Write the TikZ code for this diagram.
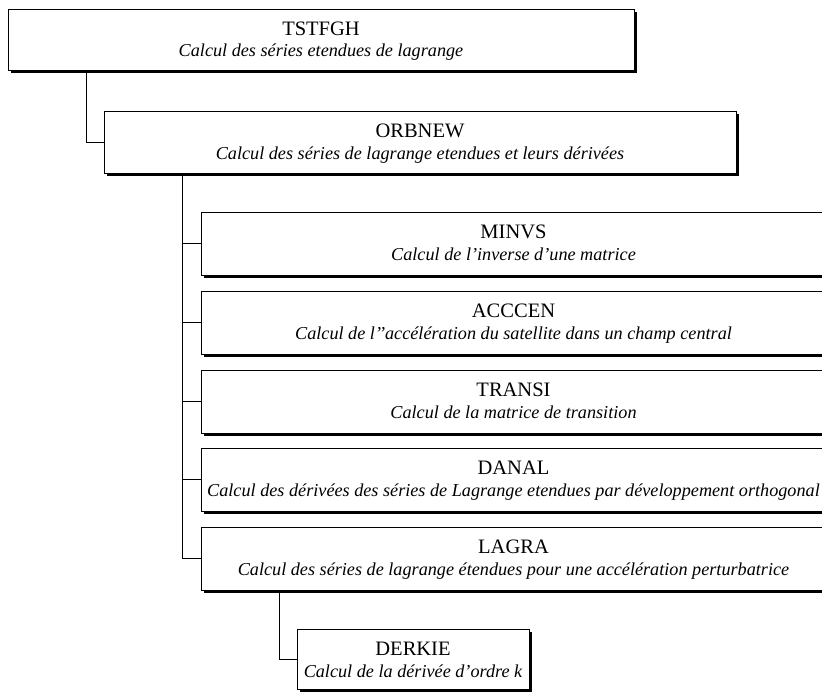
\documentclass[tikz,border=0pt]{standalone}
\usepackage{fontspec}
\setmainfont{Liberation Serif}
\usetikzlibrary{shadows}
\begin{document}
\begin{tikzpicture}[x=1pt,y=-1pt,
  bx/.style={draw=black, line width=0.9pt, fill=white, inner sep=0pt, outer sep=0pt,
    anchor=north west, drop shadow={shadow xshift=3pt, shadow yshift=-3pt, fill=black, opacity=1}},
  ttl/.style={anchor=base, inner sep=0pt, font=\fontsize{20.5}{24}\selectfont},
  sub/.style={anchor=base, inner sep=0pt, font=\fontsize{18.2}{22}\selectfont\itshape},
  wire/.style={draw=black, line width=0.9pt}]
\useasboundingbox (0,0) rectangle (822,693);
\clip (0,0) rectangle (822,693);
% boxes
\node[bx, minimum width=626pt, minimum height=61pt] (tst) at (8,9) {};
\node[bx, minimum width=632pt, minimum height=62pt] (orb) at (104,111) {};
\node[bx, minimum width=629pt, minimum height=63pt] (minvs) at (201,212) {};
\node[bx, minimum width=629pt, minimum height=63pt] (acc) at (201,291) {};
\node[bx, minimum width=629pt, minimum height=63pt] (trans) at (201,370) {};
\node[bx, minimum width=629pt, minimum height=63pt] (danal) at (201,448) {};
\node[bx, minimum width=629pt, minimum height=63pt] (lagra) at (201,527) {};
\node[bx, minimum width=232pt, minimum height=60pt] (derk) at (297,629) {};
% texts
\node[ttl] (tstT) at (321,35.5) {TSTFGH};
\node[sub] (tstS) at (321,57) {Calcul des séries etendues de lagrange};
\node[ttl] (orbT) at (420,137.5) {ORBNEW};
\node[sub] (orbS) at (420,159) {Calcul des séries de lagrange etendues et leurs dérivées};
\node[ttl] (minT) at (513.5,238.5) {MINVS};
\node[sub] (minS) at (513.5,260) {Calcul de l'inverse d'une matrice};
\node[ttl] (accT) at (513.5,317.5) {ACCCEN};
\node[sub] (accS) at (513.5,339) {Calcul de l'{}'accélération du satellite dans un champ central};
\node[ttl] (traT) at (513.5,396.5) {TRANSI};
\node[sub] (traS) at (513.5,418) {Calcul de la matrice de transition};
\node[ttl] (danT) at (513.5,474.5) {DANAL};
\node[sub] (danS) at (513.5,496) {Calcul des dérivées des séries de Lagrange etendues par développement orthogonal};
\node[ttl] (lagT) at (513.5,553.5) {LAGRA};
\node[sub] (lagS) at (513.5,575) {Calcul des séries de lagrange étendues pour une accélération perturbatrice};
\node[ttl] (derT) at (413,655.5) {DERKIE};
\node[sub] (derS) at (413,677) {Calcul de la dérivée d'ordre k};
% connectors
\coordinate (j1) at (86,70);
\coordinate (j2) at (182,173);
\coordinate (j3) at (279,590);
\draw[wire] (j1) |- (orb.west);
\draw[wire] (j2) |- (lagra.west);
\draw[wire] (j2 |- minvs.west) -- (minvs.west);
\draw[wire] (j2 |- acc.west) -- (acc.west);
\draw[wire] (j2 |- trans.west) -- (trans.west);
\draw[wire] (j2 |- danal.west) -- (danal.west);
\draw[wire] (j3) |- (derk.west);
\end{tikzpicture}
\end{document}
